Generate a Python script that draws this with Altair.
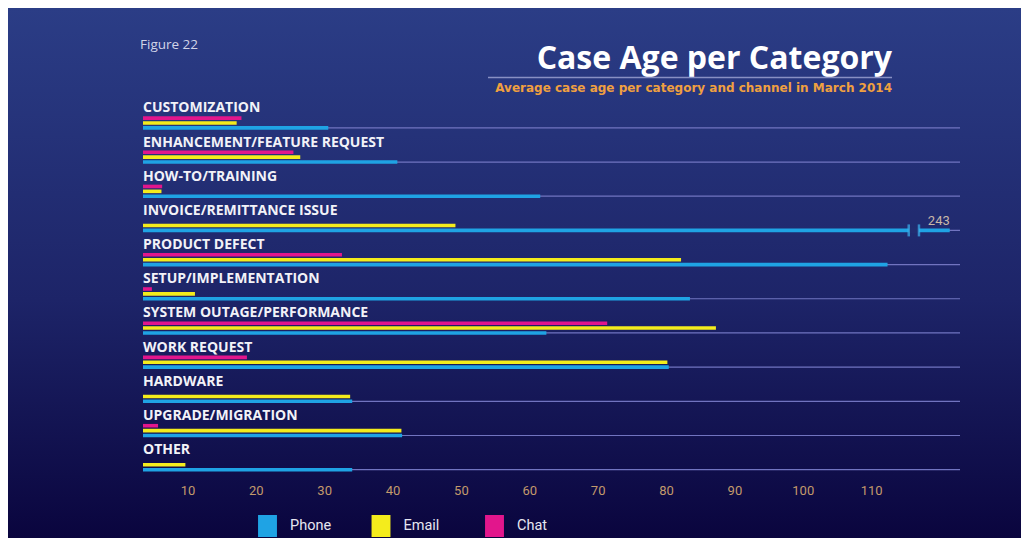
import altair as alt
import pandas as pd

# ---- data ----
categories = [
    "CUSTOMIZATION", "ENHANCEMENT/FEATURE REQUEST", "HOW-TO/TRAINING",
    "INVOICE/REMITTANCE ISSUE", "PRODUCT DEFECT", "SETUP/IMPLEMENTATION",
    "SYSTEM OUTAGE/PERFORMANCE", "WORK REQUEST", "HARDWARE",
    "UPGRADE/MIGRATION", "OTHER",
]
phone = [30.6, 40.7, 61.6, 243, 112.4, 83.5, 62.5, 80.4, 34.1, 41.4, 34.1]
email = [17.2, 26.5, 6.2, 49.2, 82.2, 11.1, 87.3, 80.2, 33.8, 41.3, 9.7]
chat = [17.9, 25.5, 6.3, 0, 32.6, 4.8, 71.4, 18.7, 0, 5.7, 0]

channels = ["Phone", "Email", "Chat"]
channel_colors = ["#1fa3e4", "#f4ec1c", "#e2168c"]
tick_values = [10, 20, 30, 40, 50, 60, 70, 80, 90, 100, 110]

title_text = "Case Age per Category"
subtitle_text = "Average case age per category and channel in March 2014"
figure_text = "Figure 22"

# axis window and break for the over-long bar
X_LO, X_HI, CAP = 3.5, 123, 121.5

W, H = 817, 376
PAD = {"left": 135, "top": 93, "right": 61, "bottom": 61}
BG_TOP, BG_BOTTOM = "#2b3d86", "#0a053e"
NARROW = "Liberation Sans Narrow, Roboto, sans-serif"

rows = []
for i, c in enumerate(categories):
    for ch, vals in zip(channels, [phone, email, chat]):
        v = vals[i]
        rows.append({"category": c, "channel": ch, "value": v, "shown": min(v, CAP)})
df = pd.DataFrame(rows)

slots = ["s0", "label", "s2", "Chat", "Email", "Phone", "s6"]

xscale = alt.Scale(domain=[X_LO, X_HI], clamp=True, zero=False, nice=False)
yscale = alt.Scale(domain=categories, paddingInner=0, paddingOuter=0)
oscale = alt.Scale(domain=slots, paddingInner=0, paddingOuter=0)

AX = alt.Axis(values=tick_values, domain=False, ticks=False, grid=False,
              labelColor="#c39a6b", labelFontSize=13, labelFont=NARROW,
              labelPadding=7, zindex=2)


def X(field):
    return alt.X(field, scale=xscale, axis=AX, title=None)


Y = alt.Y("category:N", scale=yscale, axis=None, sort=categories, title=None)

# background gradient
bg = alt.Chart(pd.DataFrame({"a": [0]})).mark_rect(
    color=alt.Gradient(
        gradient="linear",
        stops=[alt.GradientStop(color=BG_TOP, offset=0),
               alt.GradientStop(color="#1d2468", offset=0.55),
               alt.GradientStop(color=BG_BOTTOM, offset=1)],
        x1=0, x2=0, y1=0, y2=1,
    )
).encode(
    x=alt.value(-PAD["left"]), x2=alt.value(W + PAD["right"]),
    y=alt.value(-PAD["top"]), y2=alt.value(H + PAD["bottom"]),
)

# gridlines under each category
grid_df = pd.DataFrame({"category": categories, "slot": "Phone", "lo": X_LO, "hi": X_HI})
grid = alt.Chart(grid_df).mark_bar(size=1.2, color="#7174c0").encode(
    x=X("lo:Q"), x2="hi:Q", y=Y,
    yOffset=alt.YOffset("slot:N", scale=oscale),
)

bars = alt.Chart(df).mark_bar(size=3.6).encode(
    x=X("shown:Q"),
    y=Y,
    yOffset=alt.YOffset("channel:N", scale=oscale),
    color=alt.Color("channel:N",
                    scale=alt.Scale(domain=channels, range=channel_colors),
                    legend=alt.Legend(orient="none", legendX=113.5, legendY=414,
                                      direction="horizontal", title=None,
                                      symbolType="M-0.86,-1H0.86V1H-0.86Z",
                                      symbolSize=484, symbolStrokeWidth=0,
                                      symbolOpacity=1, labelColor="#e6e6f0",
                                      labelFontSize=14.5, labelFont=NARROW,
                                      labelOffset=11.5, columnPadding=38.5,
                                      gridAlign="all", padding=0)),
)

# category labels
lab_df = pd.DataFrame({"category": categories, "slot": "label", "x": X_LO})
labels = alt.Chart(lab_df).mark_text(
    align="left", baseline="middle", font="Open Sans", fontWeight="bold",
    fontSize=14, color="#f2f2f8",
).encode(
    x=X("x:Q"), y=Y,
    yOffset=alt.YOffset("slot:N", scale=oscale),
    text="category:N",
)

# axis break on the over-long bar
brk = df[df["value"] > CAP]
brk_rows = []
for _, r in brk.iterrows():
    brk_rows.append({"category": r["category"], "slot": "Phone",
                     "t1": CAP - 6, "t2": CAP - 4.5, "shown": r["shown"],
                     "lslot": "Chat", "label": str(int(r["value"]))})
brk_df = pd.DataFrame(brk_rows)
gap = alt.Chart(brk_df).mark_bar(size=6, color="#222c70").encode(
    x=X("t1:Q"), x2="t2:Q",
    y=Y, yOffset=alt.YOffset("slot:N", scale=oscale),
)
tick1 = alt.Chart(brk_df).mark_tick(size=12, thickness=2.5, color="#3cb0ee").encode(
    x=X("t1:Q"), y=Y, yOffset=alt.YOffset("slot:N", scale=oscale),
)
tick2 = alt.Chart(brk_df).mark_tick(size=12, thickness=2.5, color="#3cb0ee").encode(
    x=X("t2:Q"), y=Y, yOffset=alt.YOffset("slot:N", scale=oscale),
)
brk_label = alt.Chart(brk_df).mark_text(
    align="right", baseline="middle", fontSize=13, color="#c8b8a8",
    font=NARROW,
).encode(
    x=X("shown:Q"), y=Y, yOffset=alt.YOffset("lslot:N", scale=oscale),
    text="label:N",
)

# header texts
title = alt.Chart(pd.DataFrame({"t": [title_text]})).mark_text(
    align="right", baseline="middle", font="Open Sans", fontWeight="bold",
    fontSize=32, color="#ffffff",
).encode(x=alt.value(749), y=alt.value(-42), text="t:N")
underline = alt.Chart(pd.DataFrame({"a": [0]})).mark_rule(
    color="#8890c4", strokeWidth=1.5,
).encode(x=alt.value(345), x2=alt.value(749), y=alt.value(-23.5))
subtitle = alt.Chart(pd.DataFrame({"t": [subtitle_text]})).mark_text(
    align="right", baseline="middle", font="DejaVu Sans", fontWeight="bold",
    fontSize=12, color="#f0a040",
).encode(x=alt.value(749), y=alt.value(-13.5), text="t:N")
figure = alt.Chart(pd.DataFrame({"t": [figure_text]})).mark_text(
    align="left", baseline="middle", font="Open Sans",
    fontSize=13.5, color="#d0d4e8",
).encode(x=alt.value(-3), y=alt.value(-56), text="t:N")

chart = alt.layer(
    bg, grid, bars, gap, tick1, tick2, labels, brk_label,
    title, underline, subtitle, figure,
).properties(
    width=W, height=H,
    padding=PAD,
    autosize=alt.AutoSizeParams(type="none"),
    background=BG_BOTTOM,
).configure_view(stroke=None).configure(font="Open Sans")

chart.save("out.html", embed_options={"renderer": "svg", "actions": False})
